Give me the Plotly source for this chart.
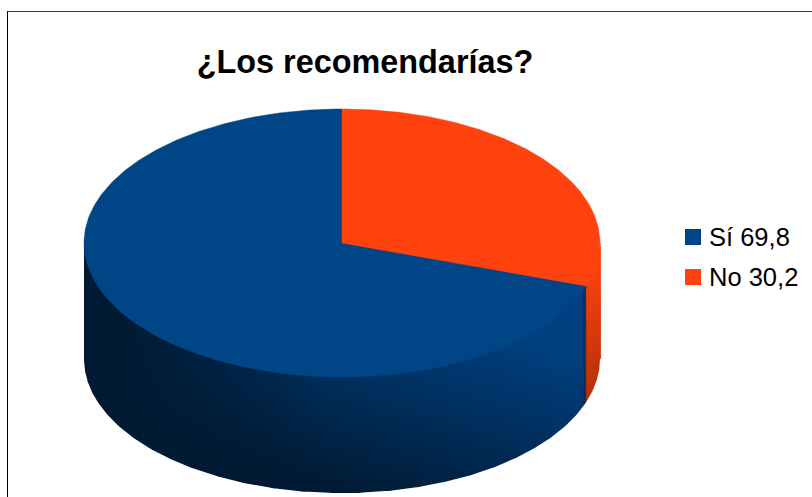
import math
from collections import defaultdict

import numpy as np
import plotly.graph_objects as go

# Survey answers
answers = ["Sí", "No"]
shares = [69.8, 30.2]
answer_colors = ["#004586", "#ff420e"]
heading = "¿Los recomendarías?"

# Drum geometry in canvas pixels
WIDTH, HEIGHT = 812, 497
CX, CY = 342, 243
RX, RY = 258, 134
DEPTH = 116

# Key block position
KEY_X, KEY_Y, KEY_STEP = 693, 237, 40

WALL_DARK, WALL_BRIGHT = "#001a33", "#004080"


def lerp_hex(a, b, t):
    ca = [int(a[i:i + 2], 16) for i in (1, 3, 5)]
    cb = [int(b[i:i + 2], 16) for i in (1, 3, 5)]
    return "#%02x%02x%02x" % tuple(round(p + (q - p) * t) for p, q in zip(ca, cb))


def orange_wall(y):
    """Vertical fall-off of the orange side wall."""
    t = min(max((y - 260) / 150, 0), 1)
    return lerp_hex("#ff420e", "#ad2e0a", t)


def ellipse_point(a):
    # a is measured clockwise from twelve o'clock
    return CX + RX * math.sin(a), CY - RY * math.cos(a)


def wedge(a0, a1):
    steps = max(int(abs(a1 - a0) * 90), 2)
    pts = [ellipse_point(a) for a in np.linspace(a0, a1, steps)]
    return [CX] + [p[0] for p in pts] + [CX], [CY] + [p[1] for p in pts] + [CY]


# The first answer runs counter-clockwise from the top, the second closes the disc
split = 2 * math.pi * shares[1] / sum(shares)
spans = [(split, 2 * math.pi), (0, split)]
split_x = ellipse_point(split)[0]

fig = go.Figure()

# Blue side wall: a pixel-sized shading field, left empty outside the drum
px = np.arange(CX - RX - 2, split_x + 1) + 0.5
py = np.arange(CY, CY + RY + DEPTH + 3) + 0.5
gx, gy = np.meshgrid(px, py)
rim = CY + RY * np.sqrt(np.clip(1 - ((gx - CX) / RX) ** 2, 0, 1))
shade = 0.27 + 0.39 * (gx - CX) / RX + 0.276 * (CY + 192 - gy) / 58
shade *= np.clip((gx - 120) / 200, 0, 1)
shade = np.clip(shade, 0, 1)
shade *= 1 - 0.45 * np.clip((gx - split_x + 6) / 6, 0, 1)
shade[gy > rim + DEPTH + 2] = np.nan
fig.add_trace(go.Heatmap(
    x=px, y=py, z=shade, zmin=0, zmax=1, showscale=False, hoverinfo="skip",
    colorscale=[[0, WALL_DARK], [1, WALL_BRIGHT]],
))

# Orange side wall: thin slices grouped by colour
cells = defaultdict(lambda: ([], []))
angles = np.linspace(math.pi / 2, split, 14)
levels = np.linspace(0, DEPTH, 25)
for a0, a1 in zip(angles[:-1], angles[1:]):
    for z0, z1 in zip(levels[:-1], levels[1:]):
        x0, y0 = ellipse_point(a0)
        x1, y1 = ellipse_point(a1)
        xs, ys = cells[orange_wall((y0 + y1) / 2 + (z0 + z1) / 2)]
        xs += [x0, x1, x1, x0, x0, None]
        ys += [y0 + z0, y1 + z0, y1 + z1, y0 + z1, y0 + z0, None]
for color in sorted(cells):
    xs, ys = cells[color]
    fig.add_trace(go.Scatter(
        x=xs, y=ys, mode="lines", fill="toself", fillcolor=color,
        line=dict(color=color, width=0.8), hoverinfo="skip", showlegend=False,
    ))

# White halo that gives the shaded wall a clean lower outline
PAD = 1.5
arc = np.linspace(math.pi / 2, 1.5 * math.pi, 300)
halo_x = list(CX + (RX + PAD) * np.sin(arc)) + [CX - RX - PAD]
halo_y = list(CY + DEPTH - (RY + PAD) * np.cos(arc)) + [CY]
fig.add_trace(go.Scatter(
    x=halo_x, y=halo_y, mode="lines", line=dict(color="white", width=2 * PAD),
    hoverinfo="skip", showlegend=False,
))

# Top face of the drum
for answer, span, color in zip(answers, spans, answer_colors):
    xs, ys = wedge(*span)
    fig.add_trace(go.Scatter(
        x=xs, y=ys, mode="lines", fill="toself", fillcolor=color,
        line=dict(color=color, width=0.5), hoverinfo="skip", showlegend=False,
    ))

# Key: swatches plus their captions
key_notes = []
for i, (answer, share, color) in enumerate(zip(answers, shares, answer_colors)):
    label = f"{answer} {share}".replace(".", ",")
    fig.add_trace(go.Scatter(
        x=[KEY_X], y=[KEY_Y + i * KEY_STEP], mode="markers", name=label,
        marker=dict(symbol="square", size=16, color=color), showlegend=False,
    ))
    key_notes.append(dict(
        text=label, x=KEY_X + 14, y=KEY_Y + i * KEY_STEP, xref="x", yref="y",
        xanchor="left", yanchor="middle", showarrow=False,
        font=dict(size=25.5, family="Liberation Sans", color="black"),
    ))

fig.update_layout(
    width=WIDTH, height=HEIGHT,
    margin=dict(l=0, r=0, t=0, b=0),
    paper_bgcolor="white", plot_bgcolor="white",
    font=dict(family="Liberation Sans", color="black"),
    title=dict(
        text=f"<b>{heading}</b>", font=dict(size=32.4, family="Liberation Sans", color="black"),
        x=365 / WIDTH, xanchor="center", y=1 - 62 / HEIGHT, yanchor="middle",
    ),
    xaxis=dict(range=[0, WIDTH], visible=False, fixedrange=True),
    yaxis=dict(range=[HEIGHT, 0], visible=False, fixedrange=True),
    showlegend=False,
    annotations=key_notes,
    shapes=[
        dict(type="line", xref="x", yref="y", x0=7, x1=WIDTH, y0=11.5, y1=11.5,
             line=dict(color="#3c3c3c", width=1)),
        dict(type="line", xref="x", yref="y", x0=7.5, x1=7.5, y0=11, y1=HEIGHT,
             line=dict(color="#000000", width=1)),
    ],
)

fig.write_html("out.html", config=dict(displayModeBar=False))
